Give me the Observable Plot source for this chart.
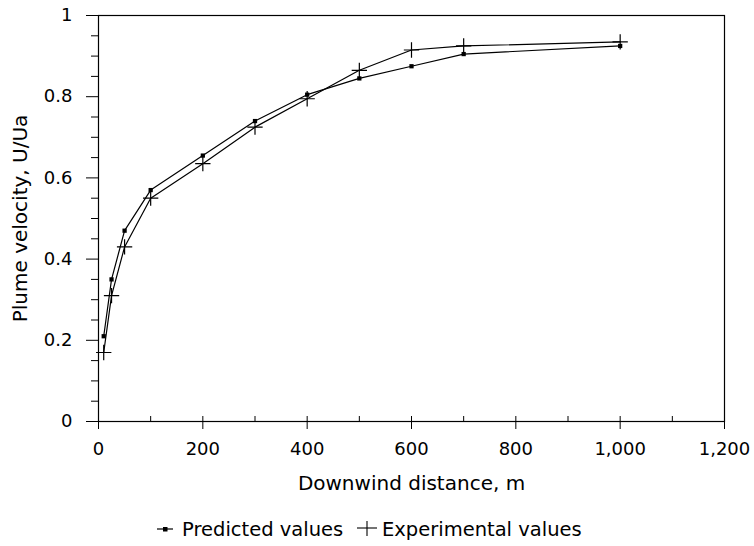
<!DOCTYPE html>
<html><head><meta charset="utf-8">
<script src="https://cdn.jsdelivr.net/npm/d3@7"></script>
<script src="https://cdn.jsdelivr.net/npm/@observablehq/plot@0.6"></script>
<style>
body{margin:0;background:#fff;}
#wrap{position:relative;width:754px;height:546px;background:#fff;font-family:"DejaVu Sans",sans-serif;}
#legend{position:absolute;left:0;top:500px;}
</style></head><body>
<div id="wrap"><div id="chart"></div><div id="legend"></div></div>
<script>
// Downwind distance (m)
const distance = [10, 25, 50, 100, 200, 300, 400, 500, 600, 700, 1000];
// Plume velocity U/Ua
const predicted = [0.21, 0.35, 0.47, 0.57, 0.655, 0.74, 0.805, 0.845, 0.875, 0.905, 0.925];
const experimental = [0.17, 0.31, 0.43, 0.55, 0.635, 0.725, 0.795, 0.865, 0.915, 0.925, 0.935];

const xMajorTicks = [0, 200, 400, 600, 800, 1000, 1200];
const xMinorTicks = [100, 300, 500, 700, 900, 1100];
const yMajorTicks = [0, 0.2, 0.4, 0.6, 0.8, 1];
const yMinorTicks = [0.05, 0.1, 0.15, 0.25, 0.3, 0.35, 0.45, 0.5, 0.55, 0.65, 0.7, 0.75, 0.85, 0.9, 0.95];

const seriesNames = ["Predicted values", "Experimental values"];
const xTitle = "Downwind distance, m";
const yTitle = "Plume velocity, U/Ua";

const predRows = distance.map((d, i) => ({distance: d, value: predicted[i]}));
const expRows = distance.map((d, i) => ({distance: d, value: experimental[i]}));

const chart = Plot.plot({
  width: 754,
  height: 500,
  marginLeft: 98,
  marginRight: 30,
  marginTop: 15,
  marginBottom: 79,
  x: {domain: [0, 1200]},
  y: {domain: [0, 1]},
  style: {fontFamily: "DejaVu Sans, sans-serif", fontSize: "18px", color: "#000", background: "#fff"},
  marks: [
    Plot.axisX(xMajorTicks, {tickSize: 13, dy: -5, fill: "none", label: null}),
    Plot.axisX(xMinorTicks, {tickSize: 5, dy: -5, fill: "none", label: null}),
    Plot.axisX(xMajorTicks, {tickSize: 0, tickPadding: 21, tickFormat: d3.format(","), label: null}),
    Plot.axisY(yMajorTicks, {tickSize: 12, tickPadding: 14, tickFormat: d => String(+d.toFixed(1)), label: null}),
    Plot.axisY(yMinorTicks, {tickSize: 7, fill: "none", label: null}),
    Plot.frame({stroke: "#000", strokeWidth: 1.2}),
    Plot.text([xTitle], {frameAnchor: "bottom", lineAnchor: "middle", textAnchor: "middle", dy: 62, fontSize: 20, fill: "#000"}),
    Plot.text([yTitle], {frameAnchor: "left", lineAnchor: "middle", textAnchor: "middle", dx: -78, rotate: -90, fontSize: 20, fill: "#000"}),
    Plot.line(predRows, {x: "distance", y: "value", stroke: "#000", strokeWidth: 1.2}),
    Plot.line(expRows, {x: "distance", y: "value", stroke: "#000", strokeWidth: 1.2}),
    Plot.dot(predRows, {x: "distance", y: "value", symbol: "square", r: 2.4, fill: "#000", stroke: "none"}),
    Plot.dot(expRows, {x: "distance", y: "value", symbol: "plus", r: 5, stroke: "#000", strokeWidth: 1.2, fill: "none"})
  ]
});
document.getElementById("chart").appendChild(chart);

// Legend below the chart
const lg = d3.select("#legend").append("svg").attr("width", 754).attr("height", 46);
lg.append("line").attr("x1", 157).attr("x2", 173).attr("y1", 29).attr("y2", 29).attr("stroke", "#000").attr("stroke-width", 1.2);
lg.append("rect").attr("x", 163).attr("y", 27).attr("width", 4.5).attr("height", 4.5).attr("fill", "#000");
lg.append("text").attr("x", 182).attr("y", 36).attr("font-size", 19.5).attr("font-family", "DejaVu Sans, sans-serif").text(seriesNames[0]);
lg.append("line").attr("x1", 357).attr("x2", 377).attr("y1", 28).attr("y2", 28).attr("stroke", "#000").attr("stroke-width", 1.1);
lg.append("line").attr("x1", 367).attr("x2", 367).attr("y1", 21).attr("y2", 36).attr("stroke", "#000").attr("stroke-width", 1.1);
lg.append("text").attr("x", 382).attr("y", 36).attr("font-size", 19.5).attr("font-family", "DejaVu Sans, sans-serif").text(seriesNames[1]);
</script>
</body></html>
